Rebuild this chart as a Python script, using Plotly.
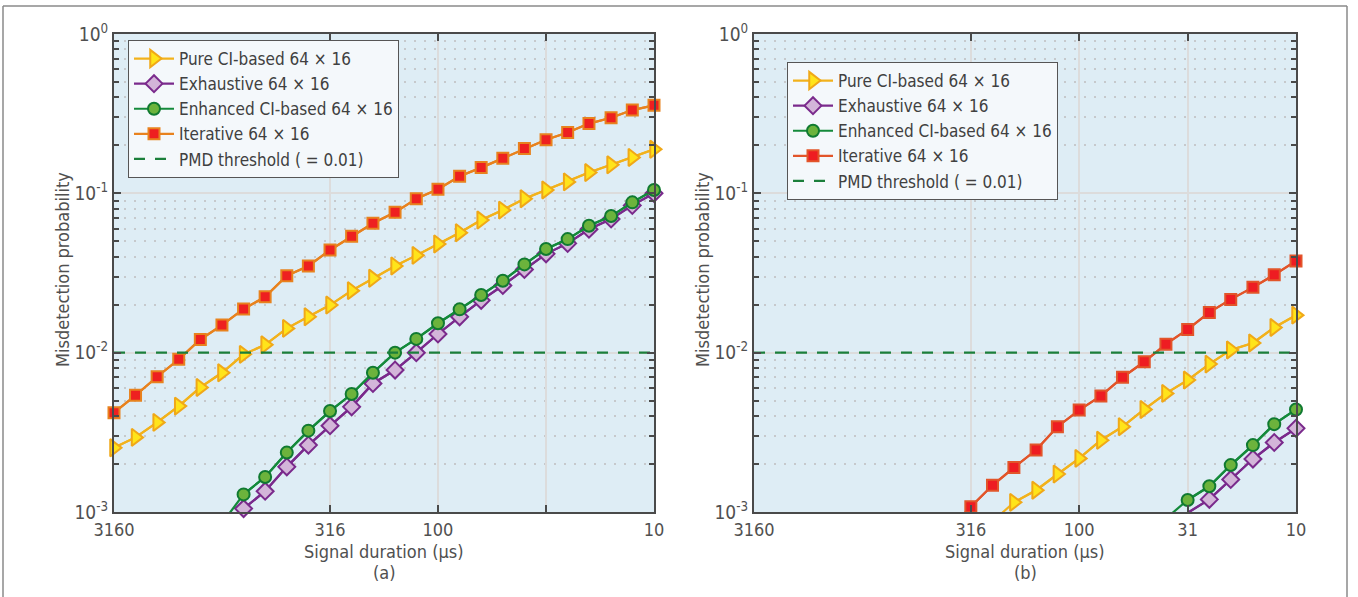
import plotly.graph_objects as go
import numpy as np

# ---------------- data ----------------
durations = [3160, 2512, 1995, 1585, 1259, 1000, 794, 631, 501, 398, 316, 251, 200,
             158, 126, 100, 79.4, 63.1, 50.1, 39.8, 31.6, 25.1, 20.0, 15.8, 12.6, 10]

a_pure = [2.53e-3, 2.94e-3, 3.65e-3, 4.62e-3, 6.05e-3, 7.48e-3, 9.76e-3, 1.12e-2, 1.42e-2,
          1.68e-2, 1.99e-2, 2.45e-2, 2.93e-2, 3.5e-2, 4.08e-2, 4.81e-2, 5.66e-2, 6.8e-2,
          7.85e-2, 9.25e-2, 0.105, 0.118, 0.135, 0.151, 0.168, 0.189]
a_exh = [None] * 5 + [8.3e-4, 1.05e-3, 1.35e-3, 1.92e-3, 2.63e-3, 3.48e-3, 4.57e-3, 6.41e-3,
                      7.78e-3, 1.0e-2, 1.31e-2, 1.68e-2, 2.13e-2, 2.64e-2, 3.33e-2, 4.17e-2,
                      4.85e-2, 5.95e-2, 6.9e-2, 8.4e-2, 0.100]
a_enh = [None] * 5 + [8.5e-4, 1.29e-3, 1.66e-3, 2.36e-3, 3.24e-3, 4.3e-3, 5.5e-3, 7.48e-3,
                      1.0e-2, 1.22e-2, 1.53e-2, 1.87e-2, 2.3e-2, 2.83e-2, 3.58e-2, 4.47e-2,
                      5.16e-2, 6.26e-2, 7.2e-2, 8.78e-2, 0.105]
a_itr = [4.2e-3, 5.4e-3, 7.06e-3, 9.08e-3, 1.21e-2, 1.49e-2, 1.88e-2, 2.24e-2, 3.04e-2, 3.5e-2,
         4.41e-2, 5.37e-2, 6.49e-2, 7.6e-2, 9.25e-2, 0.106, 0.128, 0.145, 0.166, 0.191, 0.217,
         0.241, 0.274, 0.298, 0.333, 0.357]

b_pure = [None] * 11 + [8.7e-4, 1.15e-3, 1.37e-3, 1.73e-3, 2.17e-3, 2.82e-3, 3.43e-3, 4.4e-3,
                        5.55e-3, 6.73e-3, 8.48e-3, 1.04e-2, 1.15e-2, 1.44e-2, 1.72e-2]
b_exh = [None] * 19 + [8.1e-4, 9.9e-4, 1.2e-3, 1.6e-3, 2.15e-3, 2.73e-3, 3.35e-3]
b_enh = [None] * 19 + [9.1e-4, 1.19e-3, 1.45e-3, 1.97e-3, 2.63e-3, 3.56e-3, 4.4e-3]
b_itr = [None] * 9 + [7.9e-4, 1.08e-3, 1.47e-3, 1.9e-3, 2.45e-3, 3.43e-3, 4.36e-3, 5.35e-3,
                      7.0e-3, 8.77e-3, 1.13e-2, 1.40e-2, 1.79e-2, 2.16e-2, 2.57e-2, 3.08e-2,
                      3.76e-2]

pmd_threshold = 0.01

series_names = ["Pure CI-based 64 × 16", "Exhaustive 64 × 16",
                "Enhanced CI-based 64 × 16", "Iterative 64 × 16"]
pmd_name = "PMD threshold ( = 0.01)"

x_tickvals = [3160, 316, 100, 31.6, 10]
x_ticktext_a = ["3160", "316", "100", "", "10"]
x_ticktext_b = ["3160", "316", "100", "31", "10"]
y_tickvals = [1, 0.1, 0.01, 0.001]
y_ticktext = ["10<sup>0</sup>", "10<sup>-1</sup>", "10<sup>-2</sup>", "10<sup>-3</sup>"]

# ---------------- style ----------------
FONT = "Liberation Sans Narrow, DejaVu Sans Condensed, Arial Narrow, sans-serif"
TXT = "#505050"
AX = "#4a4a4a"
BG = "#deedf5"

styles_a = [
    dict(line="#f2b21c", sym="triangle-right", size=15, fill="#ffe41a", edge="#f0a818"),
    dict(line="#7a2a8c", sym="diamond", size=13, fill="#d3b5d9", edge="#7a2a8c"),
    dict(line="#148a3b", sym="circle", size=12, fill="#6cb33c", edge="#107a31"),
    dict(line="#e8821e", sym="square", size=11, fill="#ee2020", edge="#e8821e"),
]
styles_b = [dict(s) for s in styles_a]
styles_b[3] = dict(line="#e2552a", sym="square", size=11, fill="#ee1c22", edge="#e2552a")

fig = go.Figure()


def add_panel(series, styles, xa, ya, legend):
    for vals, name, st in zip(series, series_names, styles):
        xs = [d for d, v in zip(durations, vals) if v is not None]
        ys = [v for v in vals if v is not None]
        # full line (clipped by the axes)
        fig.add_trace(go.Scatter(x=xs, y=ys, mode="lines", xaxis=xa, yaxis=ya,
                                 line=dict(color=st["line"], width=2.2),
                                 showlegend=False, hoverinfo="skip", legend=legend))
        # markers for the visible points
        mx = [x for x, y in zip(xs, ys) if y >= 9.5e-4]
        my = [y for y in ys if y >= 9.5e-4]
        fig.add_trace(go.Scatter(x=mx, y=my, mode="lines+markers", name=name,
                                 xaxis=xa, yaxis=ya, cliponaxis=False, legend=legend,
                                 line=dict(color=st["line"], width=2.2),
                                 marker=dict(symbol=st["sym"], size=st["size"],
                                             color=st["fill"],
                                             line=dict(color=st["edge"], width=2))))
    fig.add_trace(go.Scatter(x=[durations[0], durations[-1]], y=[pmd_threshold] * 2,
                             mode="lines", name=pmd_name, xaxis=xa, yaxis=ya, legend=legend,
                             line=dict(color="#1b7f3b", width=2.2, dash="11px,10px")))


add_panel([a_pure, a_exh, a_enh, a_itr], styles_a, "x", "y", "legend")
add_panel([b_pure, b_exh, b_enh, b_itr], styles_b, "x2", "y2", "legend2")

W, H = 1358, 597
ydom = [1 - 512 / H, 1 - 34 / H]

minor_y = [m * 10.0 ** e for e in (-3, -2, -1) for m in range(2, 10)]


def xaxis(dom, ticktext):
    return dict(type="log", domain=dom, range=[np.log10(3160), 1], automargin=False,
                tickvals=x_tickvals, ticktext=ticktext, ticks="inside", ticklen=7,
                tickwidth=2, tickcolor=AX, showline=True, linecolor=AX, linewidth=2,
                mirror="allticks", showgrid=True, gridcolor="#dcdcdc", gridwidth=2,
                zeroline=False, tickfont=dict(family=FONT, size=18, color=TXT))


def yaxis(anchor):
    return dict(type="log", domain=ydom, range=[-3, 0], anchor=anchor, automargin=False,
                tickvals=y_tickvals, ticktext=y_ticktext, ticks="inside", ticklen=7,
                tickwidth=2, tickcolor=AX, showline=True, linecolor=AX, linewidth=2,
                mirror="allticks", showgrid=True, gridcolor="#dcdcdc", gridwidth=2,
                zeroline=False, tickfont=dict(family=FONT, size=19, color=TXT),
                minor=dict(tickmode="array", tickvals=minor_y, ticks="inside", ticklen=5,
                           tickwidth=2, tickcolor=AX, showgrid=True, gridcolor="#c6c9cc",
                           gridwidth=2, griddash="2px,8px"))


legend_style = dict(bgcolor="#f4f8fb", bordercolor="#555555", borderwidth=1,
                    font=dict(family=FONT, size=17, color="#404040"),
                    xanchor="left", yanchor="top", tracegroupgap=0, itemwidth=40)

fig.update_layout(
    width=W, height=H, margin=dict(l=0, r=0, t=0, b=0, autoexpand=False),
    paper_bgcolor="white", plot_bgcolor=BG,
    xaxis=xaxis([114 / W, 654 / W], x_ticktext_a),
    yaxis=yaxis("x"),
    xaxis2=xaxis([754 / W, 1296 / W], x_ticktext_b),
    yaxis2=yaxis("x2"),
    legend=dict(x=128 / W, y=1 - 40 / H, **legend_style),
    legend2=dict(x=787 / W, y=1 - 62 / H, **legend_style),
    showlegend=True,
)

annots = []
for cx, lab in ((384, "(a)"), (1025, "(b)")):
    annots.append(dict(x=cx / W, y=1 - 551 / H, xref="paper", yref="paper",
                       xanchor="center", yanchor="middle",
                       text="Signal duration (μs)", showarrow=False,
                       font=dict(family=FONT, size=18, color=TXT)))
    annots.append(dict(x=cx / W, y=1 - 572 / H, xref="paper", yref="paper",
                       xanchor="center", yanchor="middle",
                       text=lab, showarrow=False,
                       font=dict(family=FONT, size=18, color=TXT)))
for cx in (62, 702):
    annots.append(dict(x=cx / W, y=1 - 270 / H, xref="paper", yref="paper",
                       xanchor="center", yanchor="middle",
                       text="Misdetection probability", showarrow=False, textangle=-90,
                       font=dict(family=FONT, size=18, color=TXT)))
fig.update_layout(annotations=annots)

# outer frame
frame = dict(type="line", xref="paper", yref="paper", line=dict(color="#8a8a8a", width=1.5))
fig.update_layout(shapes=[
    dict(frame, x0=3 / W, x1=1347 / W, y0=1 - 6 / H, y1=1 - 6 / H),
    dict(frame, x0=3 / W, x1=3 / W, y0=0, y1=1 - 6 / H),
    dict(frame, x0=1347 / W, x1=1347 / W, y0=0, y1=1 - 6 / H),
])

fig.write_html("out.html")
